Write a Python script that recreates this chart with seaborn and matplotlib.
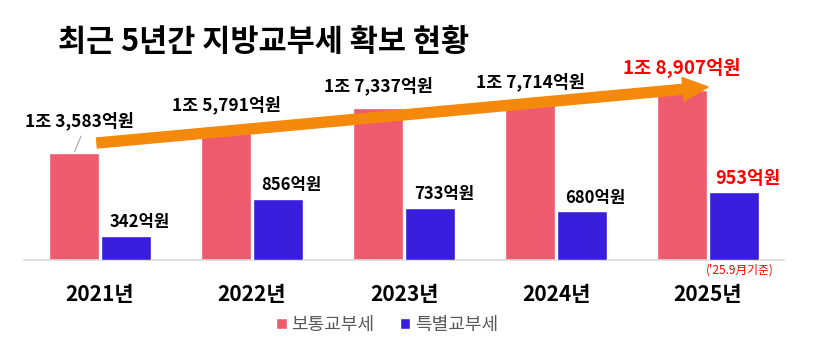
import matplotlib
matplotlib.use('Agg')
import matplotlib.pyplot as plt
from matplotlib.patches import Patch
import seaborn as sns
import pandas as pd
import numpy as np

# ---- data ----
years = ['2021년', '2022년', '2023년', '2024년', '2025년']
general = [13583, 15791, 17337, 17714, 18907]   # 보통교부세 (억원)
special = [342, 856, 733, 680, 953]             # 특별교부세 (억원)
general_labels = ['1조 3,583억원', '1조 5,791억원', '1조 7,337억원', '1조 7,714억원', '1조 8,907억원']
special_labels = ['342억원', '856억원', '733억원', '680억원', '953억원']
series = ['보통교부세', '특별교부세']
title = '최근 5년간 지방교부세 확보 현황'
footnote = "('25.9月기준)"

PINK = '#EE5A6E'
BLUE = '#381EDC'
ORANGE = '#F5890C'
RED = '#FF0000'

sns.set_theme(style='white')
plt.rcParams['font.family'] = ['Noto Sans CJK KR', 'DejaVu Sans']

fig = plt.figure(figsize=(8.14, 3.47), dpi=100)
rect = [24 / 814, 87 / 347, 760 / 814, 200 / 347]
ax1 = fig.add_axes(rect)
ax2 = fig.add_axes(rect, facecolor='none')

df = pd.DataFrame({
    'year': years * 2,
    'type': [series[0]] * len(years) + [series[1]] * len(years),
    'val': general + special,
})
df1 = df.copy()
df1.loc[df1['type'] == series[1], 'val'] = np.nan
df2 = df.copy()
df2.loc[df2['type'] == series[0], 'val'] = np.nan

W = 0.68
sns.barplot(data=df1, x='year', y='val', hue='type', hue_order=series,
            palette=[PINK, BLUE], width=W, gap=0.04, saturation=1,
            legend=False, ax=ax1)
sns.barplot(data=df2, x='year', y='val', hue='type', hue_order=series,
            palette=[PINK, BLUE], width=W, gap=0.04, saturation=1,
            legend=False, ax=ax2)

for ax in (ax1, ax2):
    ax.set_xlim(-0.5, len(years) - 0.5)
ax1.set_ylim(4500, 21436)
ax2.set_ylim(0, 2801)

for s in ['top', 'left', 'right']:
    ax1.spines[s].set_visible(False)
ax1.spines['bottom'].set_color('#D9D9D9')
ax1.spines['bottom'].set_linewidth(1.2)
ax1.set_yticks([])
ax1.set_xlabel('')
ax1.set_ylabel('')
ax1.tick_params(axis='x', length=0, pad=17)
for lab in ax1.get_xticklabels():
    lab.set_fontsize(15)
    lab.set_fontweight('bold')
    lab.set_color('black')
ax2.axis('off')

off = W / 4
# pink labels
for i, (v, t) in enumerate(zip(general, general_labels)):
    last = i == len(years) - 1
    if i == 0:
        dx, dy = 3.5, 23
    else:
        dx, dy = 0, 16
    ax1.annotate(t, xy=(i - off, v), xytext=(dx, dy), textcoords='offset points',
                 ha='center', va='center', fontsize=13.5 if last else 12.5,
                 fontweight='bold', color=RED if last else 'black')
# leader line for first label
ax1.annotate('', xy=(0 - off, general[0]), xytext=(5, 12), textcoords='offset points',
             arrowprops=dict(arrowstyle='-', color='#A6A6A6', lw=0.8, shrinkA=0, shrinkB=1))

# blue labels
for i, (v, t) in enumerate(zip(special, special_labels)):
    last = i == len(years) - 1
    ax2.annotate(t, xy=(i + off, v), xytext=(10, 10), textcoords='offset points',
                 ha='center', va='center', fontsize=13 if last else 12,
                 fontweight='bold', color=RED if last else 'black')

# trend arrow
ax1.annotate('', xy=(0.9, 0.865), xytext=(0.096, 0.585),
             xycoords='axes fraction', textcoords='axes fraction',
             arrowprops=dict(arrowstyle='simple,head_width=0.85,head_length=0.9,tail_width=0.36',
                             mutation_scale=20, color=ORANGE, shrinkA=0, shrinkB=0))

# footnote
ax1.text(0.942, -0.05, footnote, transform=ax1.transAxes, ha='center', va='center',
         fontsize=8.5, color=RED)

# title
fig.text(58 / 814, 1 - 42 / 347, title, fontsize=22, fontweight='bold',
         ha='left', va='center', color='black')

# legend
handles = [Patch(facecolor=PINK), Patch(facecolor=BLUE)]
fig.legend(handles, series, loc='center', bbox_to_anchor=(387 / 814, 1 - 325 / 347),
           ncol=2, frameon=False, fontsize=13, handlelength=0.6, handleheight=0.6,
           handletextpad=0.25, columnspacing=1.4, labelcolor='#595959')

fig.savefig('out.png', dpi=100)
